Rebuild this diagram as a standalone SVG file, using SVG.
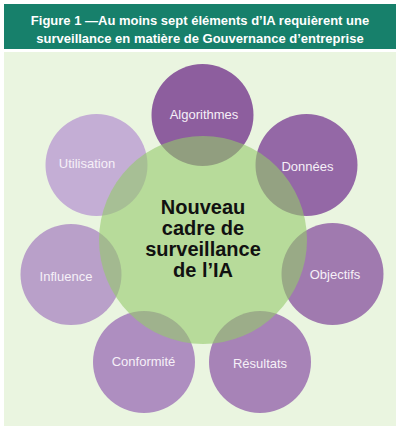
<svg xmlns="http://www.w3.org/2000/svg" width="400" height="431" viewBox="0 0 400 431">
  <style>
    .title { font-family: "Liberation Sans", Arial, sans-serif; font-weight: bold; font-size: 13px; fill: #ffffff; text-anchor: middle; }
    .lbl { font-family: "Liberation Sans", Arial, sans-serif; font-size: 13px; fill: #f6f0f8; text-anchor: middle; dominant-baseline: central; }
    .core { font-family: "Liberation Sans", Arial, sans-serif; font-weight: bold; font-size: 20px; fill: #111111; text-anchor: middle; }
  </style>
  <rect x="0" y="0" width="400" height="431" fill="#ffffff"/>
  <rect x="4" y="4" width="392" height="45" fill="#17806b"/>
  <text class="title" x="200" y="25">Figure 1 —Au moins sept éléments d’IA requièrent une</text>
  <text class="title" x="200" y="43">surveillance en matière de Gouvernance d’entreprise</text>
  <rect x="4" y="52" width="392" height="374" fill="#eaf5e0"/>

  <g id="algorithmes"><circle cx="202.5" cy="115" r="51" fill="#8d5e9e"/><text class="lbl" x="204" y="114">Algorithmes</text></g>
  <g id="donnees"><circle cx="306.5" cy="165" r="51" fill="#9468a6"/><text class="lbl" x="307.5" y="166">Données</text></g>
  <g id="objectifs"><circle cx="332.5" cy="274" r="51" fill="#a07aaf"/><text class="lbl" x="335" y="274">Objectifs</text></g>
  <g id="resultats"><circle cx="260" cy="362" r="51" fill="#a783b7"/><text class="lbl" x="260" y="363">Résultats</text></g>
  <g id="conformite"><circle cx="144" cy="362" r="51" fill="#ae8ec0"/><text class="lbl" x="143.5" y="361">Conformité</text></g>
  <g id="influence"><circle cx="71" cy="274.5" r="50.5" fill="#b9a0c9"/><text class="lbl" x="66" y="276">Influence</text></g>
  <g id="utilisation"><circle cx="96.5" cy="165" r="51" fill="#c4aed5"/><text class="lbl" x="87" y="163">Utilisation</text></g>

  <g id="centre">
    <circle cx="203" cy="240" r="104" fill="#95ca6a" fill-opacity="0.6"/>
    <text class="core" x="203" y="214">Nouveau</text>
    <text class="core" x="203" y="235">cadre de</text>
    <text class="core" x="203" y="256">surveillance</text>
    <text class="core" x="203" y="277">de l’IA</text>
  </g>
  <g id="connectors"/>
</svg>
